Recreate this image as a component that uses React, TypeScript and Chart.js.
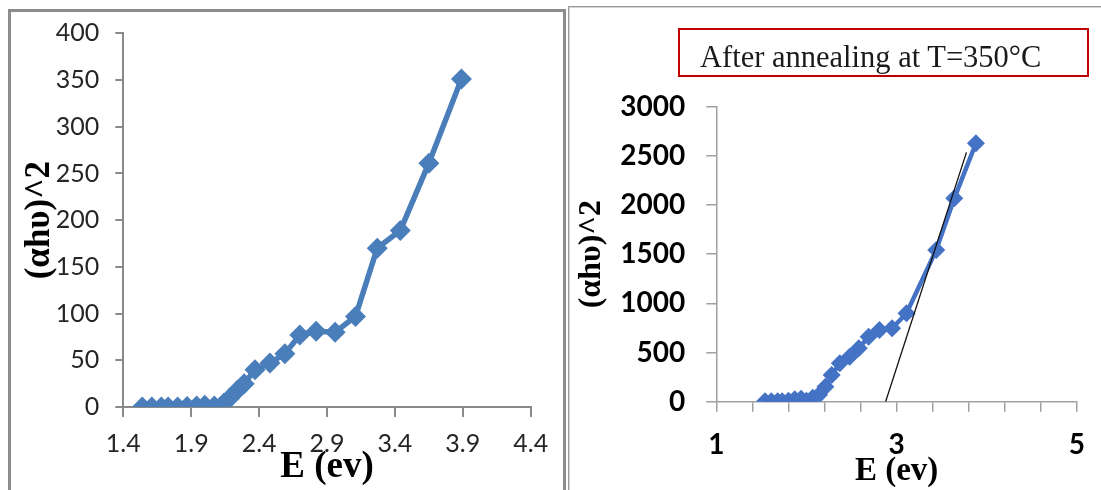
import React, { useEffect, useRef } from 'react';
import { Chart, registerables } from 'chart.js';

Chart.register(...registerables);

// ---- Left panel (as deposited) ----
const leftE = [1.54, 1.61, 1.68, 1.73, 1.80, 1.87, 1.94, 2.00, 2.07, 2.14, 2.18, 2.24, 2.29, 2.37, 2.48, 2.59, 2.70, 2.82, 2.96, 3.11, 3.27, 3.44, 3.65, 3.89];
const leftAhv2 = [0, 0, 0, 0, 0, 0.5, 1, 2, 1, 4, 9, 18, 25, 40, 47, 57, 77, 81, 80, 97, 170, 189, 261, 351];
const leftXTicks = [1.4, 1.9, 2.4, 2.9, 3.4, 3.9, 4.4];
const leftYTicks = [0, 50, 100, 150, 200, 250, 300, 350, 400];

// ---- Right panel (after annealing at 350°C) ----
const rightE = [1.54, 1.61, 1.68, 1.73, 1.80, 1.87, 1.94, 2.00, 2.07, 2.14, 2.21, 2.28, 2.37, 2.48, 2.58, 2.69, 2.81, 2.95, 3.11, 3.44, 3.64, 3.88];
const rightAhv2 = [5, 5, 5, 5, 10, 25, 30, 10, 40, 70, 153, 271, 390, 458, 543, 661, 729, 746, 899, 1543, 2068, 2628];
const tangentE = [2.878, 3.775];
const tangentY = [0, 2536];
const rightXTicks = [1, 1.4, 1.8, 2.2, 2.6, 3, 3.4, 3.8, 4.2, 4.6, 5];
const rightXLabels = [1, 3, 5];
const rightYTicks = [0, 500, 1000, 1500, 2000, 2500, 3000];

const titleText = 'After annealing at T=350°C';
const yTitle = '(αhυ)^2';
const xTitle = 'E (ev)';

const toPts = (xs: number[], ys: number[]) => xs.map((x, i) => ({ x, y: ys[i] }));

function LeftChart() {
  const ref = useRef<HTMLCanvasElement | null>(null);
  useEffect(() => {
    if (!ref.current) return;
    const blue = '#4a7ebb';
    const axis = '#8a8a8a';
    const chart = new Chart(ref.current, {
      type: 'scatter',
      data: {
        datasets: [
          {
            data: toPts(leftE, leftAhv2),
            showLine: true,
            borderColor: blue,
            backgroundColor: blue,
            borderWidth: 5.5,
            pointStyle: 'rectRot',
            pointRadius: 10.5,
            pointBorderWidth: 0,
            pointBackgroundColor: blue,
          },
        ],
      },
      options: {
        animation: false,
        responsive: false,
        devicePixelRatio: 1,
        layout: { padding: { left: 0, right: 35.3, top: 33.3, bottom: 0 } },
        plugins: { legend: { display: false }, tooltip: { enabled: false } },
        scales: {
          x: {
            type: 'linear',
            min: 1.4,
            max: 4.4,
            afterBuildTicks: (s: any) => { s.ticks = leftXTicks.map((v) => ({ value: v })); },
            afterFit: (s: any) => { s.height = 83; },
            ticks: {
              autoSkip: false,
              maxRotation: 0,
              padding: 12,
              color: '#262626',
              font: { family: 'Lato', size: 25 },
              callback: (v: any) => Number(v).toFixed(1),
            },
            grid: { drawOnChartArea: false, drawTicks: true, tickLength: 10, color: axis, lineWidth: 2 },
            border: { color: axis, width: 2 },
            title: {
              display: true,
              text: xTitle,
              color: '#000',
              font: { family: 'Liberation Serif', size: 37, weight: 'bold', lineHeight: 1 },
              padding: { top: 0, bottom: 4 },
            },
          },
          y: {
            type: 'linear',
            min: 0,
            max: 400,
            afterBuildTicks: (s: any) => { s.ticks = leftYTicks.map((v) => ({ value: v })); },
            afterFit: (s: any) => { s.width = 123.3; },
            ticks: {
              padding: 16,
              color: '#262626',
              font: { family: 'Lato', size: 25 },
              callback: (v: any) => String(v),
            },
            grid: { drawOnChartArea: false, drawTicks: true, tickLength: 8, color: axis, lineWidth: 2 },
            border: { color: axis, width: 2 },
            title: {
              display: true,
              text: yTitle,
              color: '#000',
              font: { family: 'Liberation Serif', size: 35, weight: 'bold', lineHeight: 1 },
              padding: { top: 22, bottom: 0 },
            },
          },
        },
      } as any,
    });
    return () => chart.destroy();
  }, []);
  return (
    <canvas
      ref={ref}
      width={566}
      height={490}
      style={{ position: 'absolute', left: 0, top: 0, width: 566, height: 490 }}
    />
  );
}

function RightChart() {
  const ref = useRef<HTMLCanvasElement | null>(null);
  useEffect(() => {
    if (!ref.current) return;
    const blue = '#4472c4';
    const axis = '#a0a0a0';
    const chart = new Chart(ref.current, {
      type: 'scatter',
      data: {
        datasets: [
          {
            data: toPts(rightE, rightAhv2),
            showLine: true,
            borderColor: blue,
            backgroundColor: blue,
            borderWidth: 4.5,
            pointStyle: 'rectRot',
            pointRadius: 9,
            pointBorderWidth: 0,
            pointBackgroundColor: blue,
            order: 2,
          },
          {
            data: toPts(tangentE, tangentY),
            showLine: true,
            borderColor: '#111',
            borderWidth: 1.3,
            pointRadius: 0,
            order: 1,
          },
        ],
      },
      options: {
        animation: false,
        responsive: false,
        devicePixelRatio: 1,
        layout: { padding: { left: 0, right: 16.3, top: 106.7, bottom: 0 } },
        plugins: { legend: { display: false }, tooltip: { enabled: false } },
        scales: {
          x: {
            type: 'linear',
            min: 1,
            max: 5,
            afterBuildTicks: (s: any) => { s.ticks = rightXTicks.map((v) => ({ value: v })); },
            afterFit: (s: any) => { s.height = 88.3; },
            ticks: {
              autoSkip: false,
              maxRotation: 0,
              padding: 16,
              color: '#000',
              font: { family: 'Lato', size: 28, weight: 'bold' },
              callback: (v: any) => {
                const n = Number(v);
                return rightXLabels.some((l) => Math.abs(l - n) < 1e-6) ? String(Math.round(n)) : '';
              },
            },
            grid: { drawOnChartArea: false, drawTicks: true, tickLength: 10, color: axis, lineWidth: 1.5 },
            border: { color: axis, width: 1.5 },
            title: {
              display: true,
              text: xTitle,
              color: '#000',
              font: { family: 'Liberation Serif', size: 33, weight: 'bold', lineHeight: 1 },
              padding: { top: 0, bottom: 2 },
            },
          },
          y: {
            type: 'linear',
            min: 0,
            max: 3000,
            afterBuildTicks: (s: any) => { s.ticks = rightYTicks.map((v) => ({ value: v })); },
            afterFit: (s: any) => { s.width = 146.3; },
            ticks: {
              padding: 21,
              color: '#000',
              font: { family: 'Lato', size: 28, weight: 'bold' },
              callback: (v: any) => String(v),
            },
            grid: { drawOnChartArea: false, drawTicks: true, tickLength: 10, color: axis, lineWidth: 1.5 },
            border: { color: axis, width: 1.5 },
            title: {
              display: true,
              text: yTitle,
              color: '#000',
              font: { family: 'Liberation Serif', size: 32, weight: 'bold', lineHeight: 1 },
              padding: { top: 6, bottom: 0 },
            },
          },
        },
      } as any,
    });
    return () => chart.destroy();
  }, []);
  return (
    <canvas
      ref={ref}
      width={531}
      height={490}
      style={{ position: 'absolute', left: 570, top: 0, width: 531, height: 490 }}
    />
  );
}

export default function App() {
  return (
    <div
      style={{
        position: 'absolute',
        left: 0,
        top: 0,
        width: 1101,
        height: 490,
        background: '#fff',
        overflow: 'hidden',
      }}
    >
      <div
        style={{
          position: 'absolute',
          left: 8,
          top: 9,
          width: 558,
          height: 520,
          boxSizing: 'border-box',
          border: '3px solid #8c8c8c',
        }}
      />
      <div
        style={{
          position: 'absolute',
          left: 568,
          top: 6,
          width: 600,
          height: 600,
          boxSizing: 'border-box',
          borderTop: '1px solid #9a9a9a',
          borderLeft: '1px solid #9a9a9a',
          boxShadow: 'inset 1px 1px 0 #d4d4d4',
        }}
      />
      <LeftChart />
      <RightChart />
      <div
        style={{
          position: 'absolute',
          left: 678,
          top: 28,
          width: 411,
          height: 49,
          boxSizing: 'border-box',
          border: '2px solid #c00000',
        }}
      >
        <span
          style={{
            position: 'absolute',
            left: 20,
            top: 12,
            fontFamily: '"Liberation Serif", serif',
            fontSize: 30.5,
            lineHeight: '30px',
            color: '#1a1a1a',
            whiteSpace: 'nowrap',
          }}
        >
          {titleText}
        </span>
      </div>
    </div>
  );
}
